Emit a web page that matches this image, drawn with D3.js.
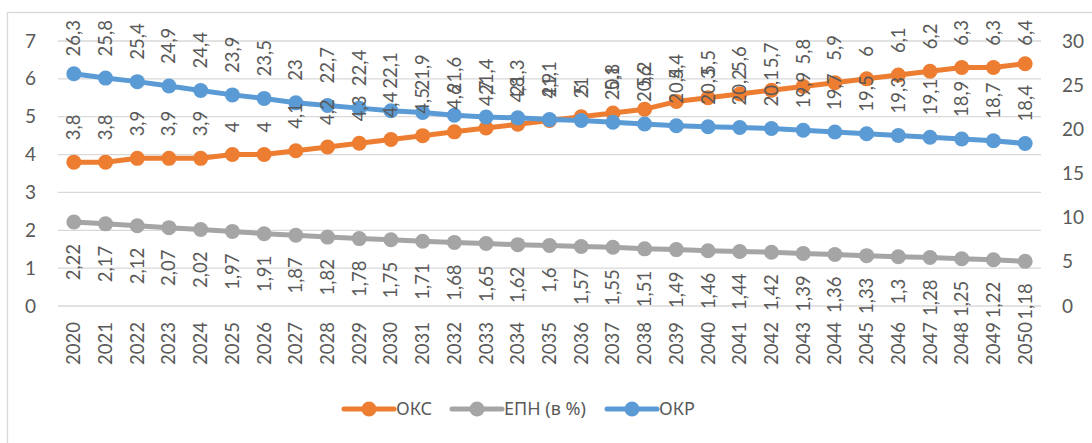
<!DOCTYPE html>
<html>
<head>
<meta charset="utf-8">
<script src="https://cdn.jsdelivr.net/npm/d3@7"></script>
<style>
  body { margin: 0; background: #fff; }
  text { font-family: Lato, "Noto Sans", sans-serif; fill: #595959; }
  .legend text { font-family: "Noto Sans", "Open Sans", sans-serif; }
</style>
</head>
<body>
<div id="chart"></div>
<script>
var width = 1092,
    height = 443;

var years = d3.range(2020, 2051).map(String);

var oks = [3.8, 3.8, 3.9, 3.9, 3.9, 4, 4, 4.1, 4.2, 4.3, 4.4, 4.5, 4.6, 4.7, 4.8, 4.9,
           5, 5.1, 5.2, 5.4, 5.5, 5.6, 5.7, 5.8, 5.9, 6, 6.1, 6.2, 6.3, 6.3, 6.4];
var epn = [2.22, 2.17, 2.12, 2.07, 2.02, 1.97, 1.91, 1.87, 1.82, 1.78, 1.75, 1.71, 1.68, 1.65, 1.62, 1.6,
           1.57, 1.55, 1.51, 1.49, 1.46, 1.44, 1.42, 1.39, 1.36, 1.33, 1.3, 1.28, 1.25, 1.22, 1.18];
var okr = [26.3, 25.8, 25.4, 24.9, 24.4, 23.9, 23.5, 23, 22.7, 22.4, 22.1, 21.9, 21.6, 21.4, 21.3, 21.1,
           21, 20.8, 20.6, 20.4, 20.3, 20.2, 20.1, 19.9, 19.7, 19.5, 19.3, 19.1, 18.9, 18.7, 18.4];

var leftTicks = [0, 1, 2, 3, 4, 5, 6, 7];
var rightTicks = [0, 5, 10, 15, 20, 25, 30];

var seriesNames = ["ОКС", "ЕПН (в %)", "ОКР"];
var colors = ["#ED7D31", "#A5A5A5", "#5B9BD5"];

var svg = d3.select("#chart").append("svg")
    .attr("width", width)
    .attr("height", height);

// chart frame (only left/top edge visible in the shot)
svg.append("rect")
  .attr("x", 7.5).attr("y", 12.5)
  .attr("width", 1200).attr("height", 600)
  .attr("fill", "none")
  .attr("stroke", "#d9d9d9")
  .attr("stroke-width", 1.3);

var x = d3.scaleBand().domain(years).range([58, 1041]);
var yL = d3.scaleLinear().domain([0, 7]).range([306, 41]);
var yR = d3.scaleLinear().domain([0, 30]).range([306, 41]);

function cx(i) { return x(years[i]) + x.bandwidth() / 2; }

// gridlines
svg.append("g").selectAll("line")
  .data(leftTicks)
  .enter().append("line")
  .attr("x1", 58).attr("x2", 1041)
  .attr("y1", function(d) { return yL(d); })
  .attr("y2", function(d) { return yL(d); })
  .attr("stroke", "#d9d9d9")
  .attr("stroke-width", 1.3);

// left axis
var axL = svg.append("g")
  .attr("transform", "translate(36,0)")
  .call(d3.axisLeft(yL).tickValues(leftTicks).tickFormat(d3.format("d")).tickSize(0).tickPadding(0));
axL.select(".domain").remove();
axL.selectAll("text").style("font-size", "19px").attr("fill", "#595959");

// right axis
var axR = svg.append("g")
  .attr("transform", "translate(1062,0)")
  .call(d3.axisRight(yR).tickValues(rightTicks).tickFormat(d3.format("d")).tickSize(0).tickPadding(0));
axR.select(".domain").remove();
axR.selectAll("text").style("font-size", "19px").attr("fill", "#595959");

// year labels
svg.append("g").selectAll("text")
  .data(years)
  .enter().append("text")
  .attr("transform", function(d, i) { return "translate(" + cx(i) + ",322) rotate(-90)"; })
  .attr("text-anchor", "end")
  .attr("dy", "0.35em")
  .style("font-size", "18.5px")
  .text(function(d) { return d; });

var series = [
  { values: oks, scale: yL, color: colors[0], pos: "above" },
  { values: epn, scale: yL, color: colors[1], pos: "below" },
  { values: okr, scale: yR, color: colors[2], pos: "above" }
];

var line = d3.line();

series.forEach(function(s) {
  var pts = s.values.map(function(v, i) { return [cx(i), s.scale(v)]; });
  var g = svg.append("g");
  g.append("path")
    .attr("d", line(pts))
    .attr("fill", "none")
    .attr("stroke", s.color)
    .attr("stroke-width", 5)
    .attr("stroke-linejoin", "round");
  g.selectAll("circle")
    .data(pts)
    .enter().append("circle")
    .attr("cx", function(d) { return d[0]; })
    .attr("cy", function(d) { return d[1]; })
    .attr("r", 7.5)
    .attr("fill", s.color);
});

function fmt(v) { return String(v).replace(".", ","); }

// data labels
series.forEach(function(s) {
  var g = svg.append("g");
  s.values.forEach(function(v, i) {
    var px = cx(i), py = s.scale(v);
    var t = g.append("text")
      .attr("dy", "0.35em")
      .style("font-size", "18.5px")
      .text(fmt(v));
    var len = t.node().getComputedTextLength();
    if (s.pos == "above") {
      var start = py - 22;
      if (start - len < 20) start = 20 + len;
      t.attr("text-anchor", "start")
       .attr("transform", "translate(" + px + "," + start + ") rotate(-90)");
    } else {
      t.attr("text-anchor", "end")
       .attr("transform", "translate(" + px + "," + (py + 22) + ") rotate(-90)");
    }
  });
});

// legend
var legendX = [344, 452, 607];
var legend = svg.append("g").attr("class", "legend");
seriesNames.forEach(function(name, i) {
  var lx = legendX[i];
  legend.append("line")
    .attr("x1", lx).attr("x2", lx + 50)
    .attr("y1", 409).attr("y2", 409)
    .attr("stroke", colors[i])
    .attr("stroke-width", 5)
    .attr("stroke-linecap", "round");
  legend.append("circle")
    .attr("cx", lx + 25).attr("cy", 409)
    .attr("r", 7.5)
    .attr("fill", colors[i]);
  legend.append("text")
    .attr("x", lx + 52).attr("y", 409)
    .attr("dy", "0.35em")
    .style("font-size", "18px")
    .text(name);
});
</script>
</body>
</html>
